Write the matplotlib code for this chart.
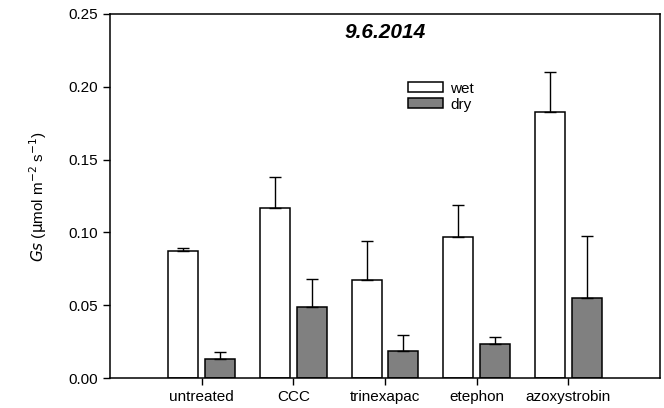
import matplotlib
matplotlib.use("Agg")
import matplotlib.pyplot as plt
import numpy as np

plt.rcParams["font.family"] = ["Liberation Sans", "DejaVu Sans"]

treatments = ["untreated", "CCC", "trinexapac", "etephon", "azoxystrobin"]
wet_mean = [0.087, 0.117, 0.0675, 0.097, 0.183]
wet_err = [0.0025, 0.021, 0.0265, 0.0215, 0.0275]
dry_mean = [0.013, 0.049, 0.0185, 0.0233, 0.055]
dry_err = [0.0047, 0.019, 0.0108, 0.005, 0.0427]

fig = plt.figure(figsize=(6.64, 4.08), dpi=100)
ax = fig.add_axes([0.1657, 0.0735, 0.8283, 0.8922])

x = np.arange(1, len(treatments) + 1)
w = 0.33
ekw = dict(ecolor="black", elinewidth=1.0, capsize=4.5, capthick=1.0)
ax.bar(x - 0.2, wet_mean, w, color="white", edgecolor="black", linewidth=1.1,
       yerr=[np.zeros(5), wet_err], error_kw=ekw, label="wet")
ax.bar(x + 0.2, dry_mean, w, color="#808080", edgecolor="black", linewidth=1.1,
       yerr=[np.zeros(5), dry_err], error_kw=ekw, label="dry")

ax.set_xlim(0, 6)
ax.set_ylim(0, 0.25)
ax.set_xticks(x)
ax.set_xticklabels(treatments, fontsize=11)
ax.set_yticks(np.arange(0, 0.251, 0.05))
ax.set_yticklabels([f"{v:.2f}" for v in np.arange(0, 0.251, 0.05)], fontsize=11)
ax.tick_params(direction="out", length=5, width=1)
for s in ax.spines.values():
    s.set_linewidth(1.1)

ax.set_ylabel(r"$Gs$ ($\mathrm{\mu}$mol m$^{-2}$ s$^{-1}$)", fontsize=11, labelpad=14)
ax.text(0.5, 0.95, "9.6.2014", transform=ax.transAxes, ha="center", va="center",
        fontsize=15, fontweight="bold", fontstyle="italic")

ax.legend(loc="upper left", bbox_to_anchor=(0.527, 0.835), frameon=False, fontsize=11,
          handlelength=2.3, handleheight=0.65, handletextpad=0.5, labelspacing=0.12,
          borderpad=0)

fig.savefig("out.png", dpi=100)
